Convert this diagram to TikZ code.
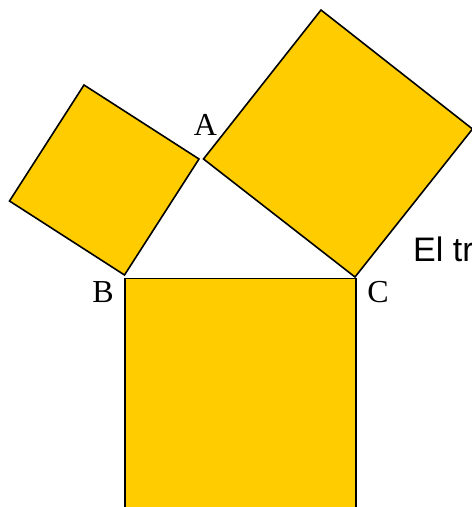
\documentclass[tikz,border=0pt]{standalone}
\usepackage{fontspec}
\setmainfont{Liberation Serif}
\newfontfamily\arialfont{Liberation Sans}
\definecolor{gold}{HTML}{FFCC00}
\begin{document}
\begin{tikzpicture}[x=1pt,y=-1pt,
  sq/.style={fill=gold,draw=black,line width=1.6pt,line join=miter},
  lbl/.style={font=\fontsize{32}{32}\selectfont,inner sep=0pt,anchor=base},
  note/.style={font=\arialfont\fontsize{34}{34}\selectfont,inner sep=0pt,anchor=base west}]
\useasboundingbox (0,0) rectangle (472,507);
\clip (0,0) rectangle (472,507);
% right square (on AC)
\coordinate (r1) at (321,10);
\coordinate (r2) at (472.5,129);
\coordinate (r3) at (355,277);
\coordinate (r4) at (203.5,159);
\draw[sq] (r1) -- (r2) -- (r3) -- (r4) -- cycle;
% left square (on AB)
\coordinate (l1) at (84,85);
\coordinate (l2) at (199,159);
\coordinate (l3) at (124.5,275);
\coordinate (l4) at (9.5,201);
\draw[sq] (l1) -- (l2) -- (l3) -- (l4) -- cycle;
% bottom square (on BC)
\coordinate (b1) at (125,278.5);
\coordinate (b2) at (356,278.5);
\coordinate (b3) at (356,509.5);
\coordinate (b4) at (125,509.5);
\draw[sq] (b1) -- (b2) -- (b3) -- (b4) -- cycle;
% labels
\node[lbl] (A) at (205.5,135.5) {A};
\node[lbl] (B) at (103,302.5) {B};
\node[lbl] (C) at (378,302.5) {C};
\node[note] (t) at (413,261) {El tr};
\end{tikzpicture}
\end{document}
